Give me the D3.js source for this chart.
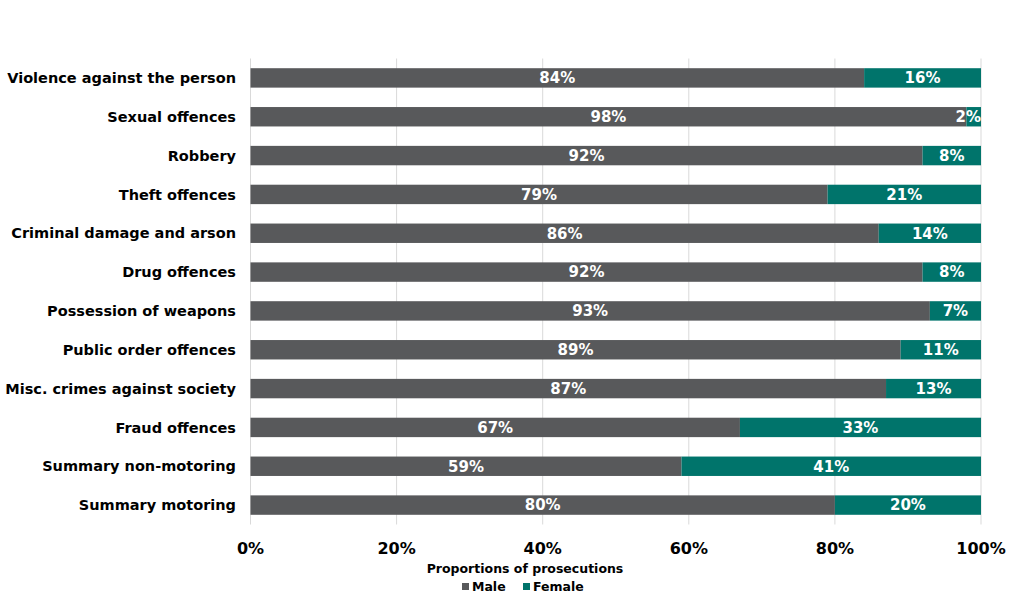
<!DOCTYPE html>
<html>
<head>
<meta charset="utf-8">
<script src="https://cdn.jsdelivr.net/npm/d3@7"></script>
<style>
  body { margin: 0; background: #fff; }
  svg { display: block; font-family: "DejaVu Sans", Verdana, sans-serif; font-weight: bold; }
</style>
</head>
<body>
<svg id="chart"></svg>
<script>
const categories = [
  "Violence against the person", "Sexual offences", "Robbery", "Theft offences",
  "Criminal damage and arson", "Drug offences", "Possession of weapons",
  "Public order offences", "Misc. crimes against society", "Fraud offences",
  "Summary non-motoring", "Summary motoring"
];
const male = [84, 98, 92, 79, 86, 92, 93, 89, 87, 67, 59, 80];
const female = [16, 2, 8, 21, 14, 8, 7, 11, 13, 33, 41, 20];
const ticks = [0, 20, 40, 60, 80, 100];
const seriesNames = ["Male", "Female"];
const colors = ["#58595b", "#00746b"];

const width = 1024, height = 605;
const margin = { top: 58.5, right: 43, bottom: 80.5, left: 250.5 };

const svg = d3.select("#chart").attr("width", width).attr("height", height);

const x = d3.scaleLinear().domain([0, 100]).range([margin.left, width - margin.right]);
const y = d3.scaleBand().domain(categories).range([margin.top, height - margin.bottom]).paddingInner(0.5).paddingOuter(0.25);

// gridlines
svg.append("g").selectAll("line").data(ticks).join("line")
  .attr("x1", d => x(d)).attr("x2", d => x(d))
  .attr("y1", margin.top).attr("y2", height - margin.bottom)
  .attr("stroke", "#d9d9d9").attr("stroke-width", 1);

const rows = categories.map((c, i) => ({ cat: c, vals: [male[i], female[i]] }));

const stacked = rows.flatMap(r => {
  let acc = 0;
  return r.vals.map((v, k) => { const s = { cat: r.cat, k, v, x0: acc, x1: acc + v }; acc += v; return s; });
});

svg.append("g").selectAll("rect").data(stacked).join("rect")
  .attr("x", d => x(d.x0)).attr("width", d => x(d.x1) - x(d.x0))
  .attr("y", d => y(d.cat)).attr("height", y.bandwidth())
  .attr("fill", d => colors[d.k]);

svg.append("g").selectAll("text").data(stacked).join("text")
  .attr("x", d => d.v < 4 ? x(d.x1) : (x(d.x0) + x(d.x1)) / 2)
  .attr("text-anchor", d => d.v < 4 ? "end" : "middle")
  .attr("y", d => y(d.cat) + y.bandwidth() / 2)
  .attr("dy", "0.36em")
  .attr("fill", "#fff").attr("font-size", 15)
  .text(d => d.v + "%");

// category labels
svg.append("g").selectAll("text").data(categories).join("text")
  .attr("x", 236).attr("y", d => y(d) + y.bandwidth() / 2).attr("dy", "0.36em")
  .attr("text-anchor", "end").attr("font-size", 14.5).attr("fill", "#000")
  .text(d => d);

// x tick labels
svg.append("g").selectAll("text").data(ticks).join("text")
  .attr("x", d => x(d)).attr("y", 554)
  .attr("text-anchor", "middle").attr("font-size", 16).attr("fill", "#000")
  .text(d => d + "%");

svg.append("text").attr("x", 525).attr("y", 573).attr("text-anchor", "middle")
  .attr("font-size", 12.5).attr("fill", "#000").text("Proportions of prosecutions");

// legend
const legend = svg.append("g").attr("transform", "translate(462,591)");
const lx = [0, 61];
seriesNames.forEach((n, i) => {
  legend.append("rect").attr("x", lx[i]).attr("y", -8).attr("width", 7).attr("height", 7).attr("fill", colors[i]);
  legend.append("text").attr("x", lx[i] + 10).attr("y", 0).attr("font-size", 12.5).attr("fill", "#000").text(n);
});
</script>
</body>
</html>
